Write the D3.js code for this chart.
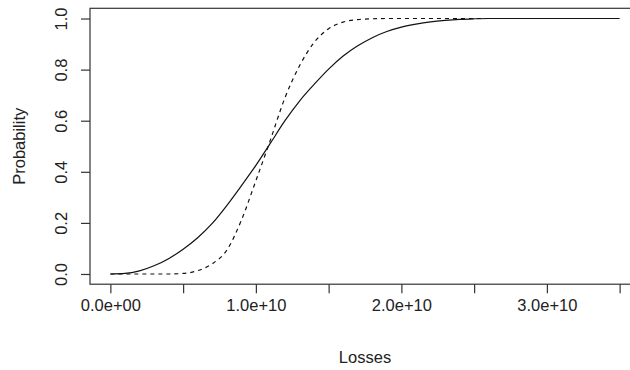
<!DOCTYPE html>
<html>
<head>
<meta charset="utf-8">
<script src="https://cdn.jsdelivr.net/npm/d3@7"></script>
<style>
  body { margin: 0; background: #fff; overflow: hidden; }
  #chart text { font-family: "Liberation Sans", Arial, sans-serif; fill: #222; }
</style>
</head>
<body>
<div id="chart"></div>
<script>
// losses (x) and cumulative probability (y)
var solidLosses = [0, 1e9, 2e9, 3e9, 4e9, 5e9, 6e9, 7e9, 8e9, 9e9, 10e9, 11e9, 12e9, 13e9,
                   14e9, 15e9, 16e9, 17e9, 18e9, 19e9, 20e9, 21e9, 22e9, 23e9, 24e9, 25e9, 26e9, 35e9];
var solidProb   = [0, 0.002, 0.012, 0.032, 0.06, 0.097, 0.142, 0.198, 0.268, 0.345, 0.425, 0.512, 0.6, 0.677,
                   0.742, 0.802, 0.853, 0.893, 0.925, 0.949, 0.966, 0.978, 0.987, 0.993, 0.997, 0.999, 1.0, 1.0];

var dashedLosses = [0, 1e9, 2e9, 3e9, 4e9, 5e9, 6e9, 7e9, 8e9, 9e9, 10e9, 11e9, 12e9, 13e9,
                    14e9, 15e9, 16e9, 17e9, 18e9, 19e9, 25.8e9];
var dashedProb   = [0, 0, 0, 0, 0, 0.002, 0.013, 0.04, 0.093, 0.21, 0.365, 0.525, 0.69, 0.815,
                    0.906, 0.96, 0.986, 0.996, 0.999, 1.0, 1.0];

var xTickValues = [0, 5e9, 1e10, 1.5e10, 2e10, 2.5e10, 3e10, 3.5e10];
var xTickLabels = ["0.0e+00", "", "1.0e+10", "", "2.0e+10", "", "3.0e+10", ""];
var yTickValues = [0, 0.2, 0.4, 0.6, 0.8, 1.0];
var yTickLabels = ["0.0", "0.2", "0.4", "0.6", "0.8", "1.0"];

var width = 630, height = 370;
var box = {left: 90, right: 640, top: 8.3, bottom: 284.2};

var svg = d3.select("#chart").append("svg")
    .attr("width", width)
    .attr("height", height);

// R style: 4% padding around the data range
var x = d3.scaleLinear().domain([-1.4e9, 3.64e10]).range([box.left, box.right]);
var y = d3.scaleLinear().domain([-0.04, 1.04]).range([box.bottom, box.top]);

var line = d3.line()
    .x(function(d) { return x(d[0]); })
    .y(function(d) { return y(d[1]); })
    .curve(d3.curveMonotoneX);

var solid = d3.zip(solidLosses, solidProb);
var dashed = d3.zip(dashedLosses, dashedProb);

svg.append("path")
    .datum(solid)
    .attr("d", line)
    .attr("fill", "none")
    .attr("stroke", "#111")
    .attr("stroke-width", 1.2);

svg.append("path")
    .datum(dashed)
    .attr("d", line)
    .attr("fill", "none")
    .attr("stroke", "#111")
    .attr("stroke-width", 1.2)
    .style("stroke-dasharray", "4, 4");

// plot box
svg.append("rect")
    .attr("x", box.left)
    .attr("y", box.top)
    .attr("width", box.right - box.left)
    .attr("height", box.bottom - box.top)
    .attr("fill", "none")
    .attr("stroke", "#333")
    .attr("stroke-width", 1.2);

// x axis
var xAxis = svg.append("g")
    .attr("transform", "translate(0," + box.bottom + ")")
    .call(d3.axisBottom(x)
      .tickValues(xTickValues)
      .tickSize(9)
      .tickFormat(function(d, i) { return xTickLabels[i]; }));
xAxis.select(".domain").remove();
xAxis.selectAll("line").attr("stroke", "#333").attr("stroke-width", 1.2);
xAxis.selectAll("text")
    .attr("y", 22)
    .attr("dy", null)
    .attr("dominant-baseline", "middle")
    .style("font-size", "16.5px");

// y axis, labels turned like R (las = 0)
var yAxis = svg.append("g")
    .attr("transform", "translate(" + box.left + ",0)")
    .call(d3.axisLeft(y)
      .tickValues(yTickValues)
      .tickSize(9)
      .tickFormat(function(d, i) { return yTickLabels[i]; }));
yAxis.select(".domain").remove();
yAxis.selectAll("line").attr("stroke", "#333").attr("stroke-width", 1.2);
yAxis.selectAll("text")
    .attr("x", null)
    .attr("dy", null)
    .attr("transform", "translate(-23,0) rotate(-90)")
    .attr("text-anchor", "middle")
    .style("font-size", "16.5px");

svg.append("text")
    .attr("x", (box.left + box.right) / 2)
    .attr("y", 363)
    .attr("text-anchor", "middle")
    .style("font-size", "16.5px")
    .text("Losses");

svg.append("text")
    .attr("transform", "translate(25," + ((box.top + box.bottom) / 2) + ") rotate(-90)")
    .attr("text-anchor", "middle")
    .style("font-size", "16.5px")
    .text("Probability");
</script>
</body>
</html>
